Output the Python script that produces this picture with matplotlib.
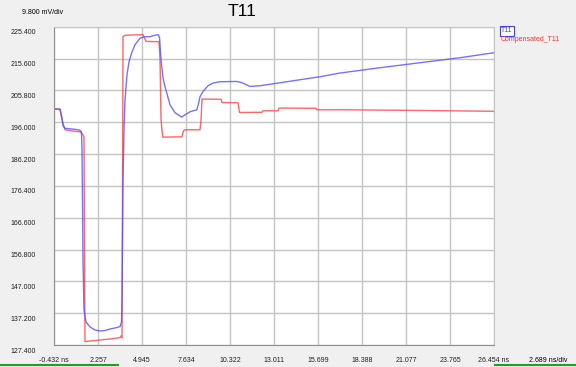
import numpy as np
import matplotlib
matplotlib.use("Agg")
import matplotlib.pyplot as plt
from matplotlib import transforms
from matplotlib.lines import Line2D

plt.rcParams["font.family"] = ["Liberation Sans", "DejaVu Sans"]

# Axis ticks
x_ticks = [-0.432, 2.257, 4.945, 7.634, 10.322, 13.011, 15.699, 18.388, 21.077, 23.765, 26.454]
x_labels = ["-0.432 ns", "2.257", "4.945", "7.634", "10.322", "13.011", "15.699",
            "18.388", "21.077", "23.765", "26.454 ns"]
y_ticks = [127.4, 137.2, 147.0, 156.8, 166.6, 176.4, 186.2, 196.0, 205.8, 215.6, 225.4]
y_labels = ["%.3f" % v for v in y_ticks]

# T11 (blue trace)
t11_x = [-0.432, -0.065, 0.057, 0.118, 0.240, 0.851, 1.157, 1.249, 1.279, 1.310, 1.340,
         1.401, 1.524, 1.768, 2.074, 2.379, 2.685, 2.990, 3.296, 3.602, 3.693, 3.724,
         3.754, 3.785, 3.846, 3.907, 4.029, 4.152, 4.317, 4.518, 4.824, 5.129, 5.435,
         5.741, 5.942, 6.016, 6.107, 6.229, 6.352, 6.657, 6.963, 7.372, 7.574, 7.880,
         8.289, 8.368, 8.490, 8.674, 8.980, 9.285, 9.713, 10.734, 11.058, 11.547,
         12.158, 13.380, 14.602, 15.825, 17.047, 19.491, 21.936, 24.380, 26.454]
t11_y = [200.04, 200.00, 197.36, 194.89, 194.12, 193.81, 193.50, 193.04, 187.50, 172.09,
         153.60, 138.19, 134.49, 132.95, 132.02, 131.71, 131.87, 132.33, 132.64, 133.04,
         134.49, 141.27, 159.76, 178.25, 193.66, 202.90, 210.61, 214.61, 217.39, 219.85,
         221.86, 222.32, 222.32, 222.78, 222.94, 222.01, 215.23, 209.68, 206.91, 201.36,
         198.90, 197.57, 198.28, 199.21, 199.82, 201.06, 203.83, 205.46, 207.22, 208.05,
         208.45, 208.54, 208.14, 207.00, 207.22, 208.14, 209.07, 209.99, 211.13, 212.77,
         214.31, 215.85, 217.39]

# Compensated_T11 (red trace)
comp_x = [-0.432, -0.065, 0.057, 0.240, 0.851, 1.157, 1.340, 1.401, 1.432, 1.462, 1.768,
          2.379, 2.990, 3.479, 3.602, 3.663, 3.724, 3.754, 3.785, 3.907, 5.007, 5.191,
          5.985, 6.046, 6.107, 6.211, 7.391, 7.482, 7.574, 8.490, 8.552, 8.613, 9.774,
          9.835, 10.813, 10.905, 12.280, 12.341, 13.258, 13.319, 15.580, 15.641, 17.047,
          20.714, 26.454]
comp_y = [200.04, 200.00, 196.74, 193.66, 193.20, 193.04, 192.12, 191.50, 156.68, 128.42,
          128.63, 128.94, 129.25, 129.56, 129.71, 130.17, 129.56, 172.09, 222.32, 222.78,
          222.94, 220.87, 220.78, 215.23, 196.74, 191.41, 191.50, 193.35, 193.66, 193.66,
          196.74, 203.12, 203.06, 202.07, 201.98, 198.99, 199.05, 199.51, 199.51, 200.35,
          200.28, 199.82, 199.82, 199.67, 199.36]

BG = "#f0f0f0"
FS = 5
fig = plt.figure(figsize=(5.76, 3.67), dpi=100, facecolor=BG)
ax = fig.add_axes([54 / 576, 22 / 367, 440 / 576, 318.3 / 367])
ax.set_facecolor("white")

ax.plot(comp_x, comp_y, color="#ff4040", lw=1.0, alpha=0.8)
ax.plot(t11_x, t11_y, color="#5050ff", lw=1.0, alpha=0.8)

ax.set_xlim(x_ticks[0], x_ticks[-1])
ax.set_ylim(y_ticks[0], y_ticks[-1])
ax.set_xticks(x_ticks)
ax.set_xticklabels(x_labels, fontsize=FS)
ax.set_yticks(y_ticks)
ax.set_yticklabels(y_labels, fontsize=FS)
ax.tick_params(length=0, colors="#202020")
ax.tick_params(axis="y", pad=13)
ax.tick_params(axis="x", pad=9)
ax.grid(True, color="#c4c4c4", lw=1)
for s in ax.spines.values():
    s.set_color("#c4c4c4")
ax.spines["left"].set_color("#909090")
ax.spines["bottom"].set_color("#909090")

# y labels sit a bit below their grid lines
offset = transforms.ScaledTranslation(0, -5 / 100, fig.dpi_scale_trans)
for lab in ax.get_yticklabels():
    lab.set_transform(lab.get_transform() + offset)

fig.text(242.5 / 576, 1 - 12 / 367, "T11", fontsize=12.5, ha="center", va="center")
fig.text(43 / 576, 1 - 13 / 367, "9.800 mV/div", fontsize=FS, ha="center", va="center")
fig.text(548 / 576, 1 - 361 / 367, "2.689 ns/div", fontsize=FS, ha="center", va="center")

# legend
fig.text(501 / 576, 1 - 31 / 367, "T11", fontsize=FS, color="#4040ff", ha="left", va="center",
         bbox=dict(boxstyle="square,pad=0.15", fc="white", ec="#4040ff", lw=0.8))
fig.text(501 / 576, 1 - 39.5 / 367, "Compensated_T11", fontsize=FS, color="#ff3030",
         ha="left", va="center")

# green status lines along the bottom
fig.add_artist(Line2D([0, 118 / 576], [1 - 364.5 / 367] * 2, color="#22a022", lw=1.5))
fig.add_artist(Line2D([495 / 576, 1], [1 - 364.5 / 367] * 2, color="#22a022", lw=1.5))

fig.savefig("out.png", dpi=100, facecolor=BG)
